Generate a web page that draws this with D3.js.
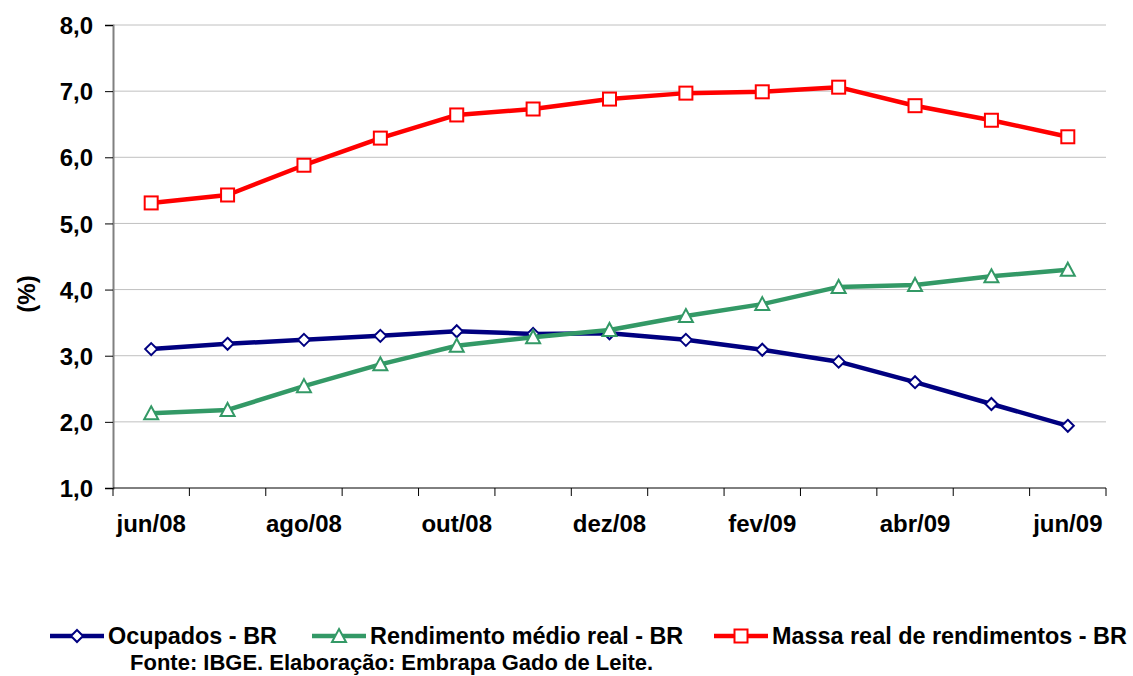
<!DOCTYPE html>
<html>
<head>
<meta charset="utf-8">
<script src="https://cdn.jsdelivr.net/npm/d3@7"></script>
<style>
  body { margin: 0; background: #fff; }
  svg text { font-family: "Liberation Sans", Arial, sans-serif; font-weight: bold; fill: #000; }
</style>
</head>
<body>
<div id="chart"></div>
<script>
// months on the x axis
var months = ["jun/08", "jul/08", "ago/08", "set/08", "out/08", "nov/08", "dez/08",
              "jan/09", "fev/09", "mar/09", "abr/09", "mai/09", "jun/09"];

var ocupados = [3.10, 3.18, 3.24, 3.30, 3.37, 3.33, 3.34, 3.24, 3.09, 2.91, 2.60, 2.27, 1.94];
var rendimento = [2.13, 2.18, 2.54, 2.87, 3.15, 3.28, 3.39, 3.60, 3.78, 4.04, 4.07, 4.20, 4.30];
var massa = [5.31, 5.43, 5.88, 6.29, 6.64, 6.73, 6.88, 6.97, 6.99, 7.06, 6.78, 6.56, 6.31];

var yTicks = [1, 2, 3, 4, 5, 6, 7, 8];

var series = [
    {name: "Ocupados - BR", values: ocupados, color: "#000080", marker: "diamond"},
    {name: "Rendimento médio real - BR", values: rendimento, color: "#339966", marker: "triangle"},
    {name: "Massa real de rendimentos - BR", values: massa, color: "#ff0000", marker: "square"}
];

var W = 1133, H = 676;
var margin = {top: 25, right: 27, bottom: 188, left: 113},
    width = W - margin.left - margin.right,
    height = H - margin.top - margin.bottom;

var svg = d3.select("#chart")
    .append("svg")
    .attr("width", W)
    .attr("height", H);

var canvas = svg.append("g")
    .attr("transform", "translate(" + margin.left + "," + margin.top + ")");

var scale_x = d3.scaleBand()
    .domain(months)
    .range([0, width]);

var scale_y = d3.scaleLinear()
    .domain([1, 8])
    .range([height, 0]);

function cx(i) { return scale_x(months[i]) + scale_x.bandwidth() / 2; }

// gridlines
canvas.append("g")
    .selectAll("line")
    .data(yTicks.slice(1))
    .enter()
    .append("line")
    .attr("x1", 0).attr("x2", width)
    .attr("y1", function(d) { return scale_y(d); })
    .attr("y2", function(d) { return scale_y(d); })
    .attr("stroke", "#c0c0c0")
    .attr("stroke-width", 1);

// y axis
var yAxis = canvas.append("g")
    .call(d3.axisLeft(scale_y)
          .tickValues(yTicks)
          .tickSize(8)
          .tickPadding(12)
          .tickFormat(function(d) { return d3.format(".1f")(d).replace(".", ","); }));
yAxis.select(".domain").attr("stroke", "#808080").attr("stroke-width", 2);
yAxis.selectAll(".tick line").attr("stroke", "#000");
yAxis.selectAll("text").attr("font-size", 24).attr("dy", "0.36em");

// x axis with ticks between categories
var xAxisG = canvas.append("g")
    .attr("transform", "translate(0," + height + ")");
xAxisG.append("line")
    .attr("x1", 0).attr("x2", width)
    .attr("stroke", "#000").attr("stroke-width", 1);
var bounds = months.map(function(m) { return scale_x(m); }).concat([width]);
xAxisG.selectAll(".xt")
    .data(bounds)
    .enter()
    .append("line")
    .attr("class", "xt")
    .attr("x1", function(d) { return d; })
    .attr("x2", function(d) { return d; })
    .attr("y1", 0).attr("y2", 8)
    .attr("stroke", "#000");
xAxisG.selectAll(".xl")
    .data(months.filter(function(m, i) { return i % 2 === 0; }))
    .enter()
    .append("text")
    .attr("class", "xl")
    .attr("x", function(d) { return scale_x(d) + scale_x.bandwidth() / 2; })
    .attr("y", 44)
    .attr("text-anchor", "middle")
    .attr("font-size", 24)
    .text(function(d) { return d; });

// y label
svg.append("text")
    .attr("transform", "translate(35,294) rotate(-90)")
    .attr("text-anchor", "middle")
    .attr("font-size", 24)
    .text("(%)");

function drawMarker(g, type, x, y, color) {
    if (type === "diamond") {
        g.append("path")
            .attr("d", "M" + x + "," + (y - 6) + "L" + (x + 6) + "," + y + "L" + x + "," + (y + 6) + "L" + (x - 6) + "," + y + "Z")
            .attr("fill", "#fff").attr("stroke", color).attr("stroke-width", 2);
    } else if (type === "triangle") {
        g.append("path")
            .attr("d", "M" + x + "," + (y - 7) + "L" + (x + 7) + "," + (y + 6) + "L" + (x - 7) + "," + (y + 6) + "Z")
            .attr("fill", "#fff").attr("stroke", color).attr("stroke-width", 2);
    } else {
        g.append("rect")
            .attr("x", x - 6.5).attr("y", y - 6.5)
            .attr("width", 13).attr("height", 13)
            .attr("fill", "#fff").attr("stroke", color).attr("stroke-width", 2);
    }
}

var line = d3.line()
    .x(function(d, i) { return cx(i); })
    .y(function(d) { return scale_y(d); });

series.forEach(function(s) {
    var g = canvas.append("g");
    g.append("path")
        .datum(s.values)
        .attr("d", line)
        .attr("fill", "none")
        .attr("stroke", s.color)
        .attr("stroke-width", 4.5)
        .attr("stroke-linejoin", "round");
    s.values.forEach(function(v, i) {
        drawMarker(g, s.marker, cx(i), scale_y(v), s.color);
    });
});

// legend
var legendX = [50, 312, 714];
var legend = svg.append("g");
series.forEach(function(s, i) {
    var x0 = legendX[i], y0 = 636;
    legend.append("line")
        .attr("x1", x0).attr("x2", x0 + 54)
        .attr("y1", y0).attr("y2", y0)
        .attr("stroke", s.color).attr("stroke-width", 4.5);
    drawMarker(legend, s.marker, x0 + 27, y0, s.color);
    legend.append("text")
        .attr("x", x0 + 58)
        .attr("y", y0 + 8)
        .attr("font-size", 23.4)
        .text(s.name);
});

svg.append("text")
    .attr("x", 130)
    .attr("y", 670)
    .attr("font-size", 22)
    .text("Fonte: IBGE. Elaboração: Embrapa Gado de Leite.");
</script>
</body>
</html>
